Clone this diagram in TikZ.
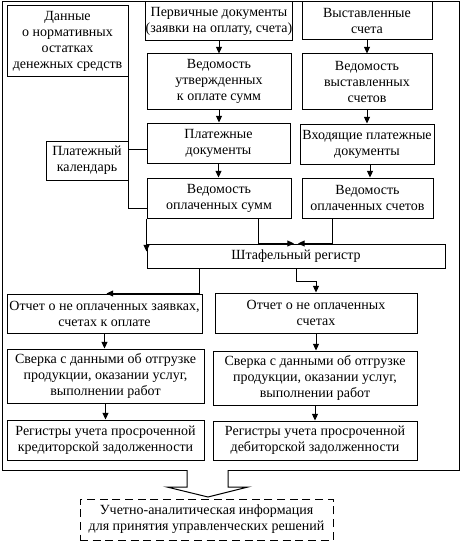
\documentclass[tikz,border=0pt]{standalone}
\usepackage{fontspec}
\setmainfont{Liberation Serif}
\usetikzlibrary{arrows.meta,calc}
\newcommand\bx[7][]{\node[box,#1,minimum width={(#5-#3)*0.75pt},minimum height={(#6-#4)*0.75pt}] (#2) at ({(#3+#5)/2},{(#4+#6)/2}) {#7};}
\begin{document}
\begin{tikzpicture}[x=0.75pt,y=-0.75pt,line width=0.75pt,
  box/.style={draw,align=center,inner sep=0pt,font=\fontsize{10.5}{12}\selectfont},
  arr/.style={-{Triangle[width=4.5pt,length=5pt]}}]
\useasboundingbox (0,0) rectangle (461,542);
% outer frame with opening for the hollow arrow
\coordinate (gl) at (187,470);
\coordinate (gr) at (228,470);
\draw (gl) -- (2,470) -- (2,2) -- (459,2) -- (459,470) -- (gr);
\draw (gl) -- ++(0,17) -- ++(-20,0) -- (208,497) -- (248,487) -- ($(gr)+(0,17)$) -- (gr);
% boxes
\bx{data}{7}{6}{128}{77}{Данные\\о нормативных\\остатках\\денежных средств}
\bx{perv}{147}{2}{291}{41}{Первичные документы\\(заявки на оплату, счета)}
\bx{vyst}{302}{2}{432}{40}{Выставленные\\счета}
\bx{vedut}{147}{54}{291}{109}{Ведомость\\утвержденных\\к оплате сумм}
\bx{vedvy}{302}{54}{432}{109}{Ведомость\\выставленных\\счетов}
\bx{plat}{147}{123}{290}{163}{Платежные\\документы}
\bx{vhod}{300}{124}{434}{164}{Входящие платежные\\документы}
\bx{cal}{46}{141}{128}{180}{Платежный\\календарь}
\bx{vedop}{147}{178}{291}{218}{Ведомость\\оплаченных сумм}
\bx{vedos}{302}{178}{433}{218}{Ведомость\\оплаченных счетов}
\bx{shtaf}{147}{244}{445}{268}{Штафельный регистр}
\bx{otl}{7}{294}{202}{333}{Отчет о не оплаченных заявках,\\счетах к оплате}
\bx{otr}{215}{293}{417}{333}{Отчет о не оплаченных\\счетах}
\bx{sverl}{7}{349}{204}{403}{Сверка с данными об отгрузке\\продукции, оказании услуг,\\выполнении работ}
\bx{sverr}{213}{351}{417}{405}{Сверка с данными об отгрузке\\продукции, оказании услуг,\\выполнении работ}
\bx{regl}{7}{420}{204}{460}{Регистры учета просроченной\\кредиторской задолженности}
\bx{regr}{213}{421}{417}{460}{Регистры учета просроченной\\дебиторской задолженности}
\bx[dash pattern=on 6pt off 3.5pt]{info}{80}{499}{333}{540}{Учетно-аналитическая информация\\для принятия управленческих решений}
% connectors
\draw[arr] (perv.south) -- (vedut.north);
\draw[arr] (vedut.south) -- (vedut.south |- plat.north);
\draw[arr] (plat.south) -- (plat.south |- vedop.north);
\draw[arr] (vyst.south) -- (vedvy.north);
\draw[arr] (vedvy.south) -- (vedvy.south |- vhod.north);
\coordinate (vh) at ($(vhod.south)+(3,0)$);
\draw[arr] (vh) -- (vh |- vedos.north);
\draw (data.south east) |- ($(plat.west)+(0,6)$);
\draw (cal.south east) |- ($(vedop.west)+(0,10)$);
\coordinate (sl) at ($(vedop.south west |- shtaf.north)+(0,8)$);
\draw[arr] (vedop.south west) -- (sl);
\draw[arr] ($(vedop.south)+(39,0)$) |- ($(shtaf.north)+(-2,0)$);
\draw[arr] ($(vedos.south)+(-35.5,0)$) |- ($(shtaf.north)+(2,0)$);
\draw[arr] (shtaf.south) -- ++(0,13) -| (otr.north);
\draw[arr] ($(shtaf.south west)+(53,0)$) |- ($(otl.north)+(2,0)$);
\draw[arr] (otl.south) -- (otl.south |- sverl.north);
\draw[arr] (sverl.south) -- (regl.north);
\draw[arr] (otr.south) -- (otr.south |- sverr.north);
\draw[arr] (sverr.south) -- (regr.north);
\end{tikzpicture}
\end{document}
